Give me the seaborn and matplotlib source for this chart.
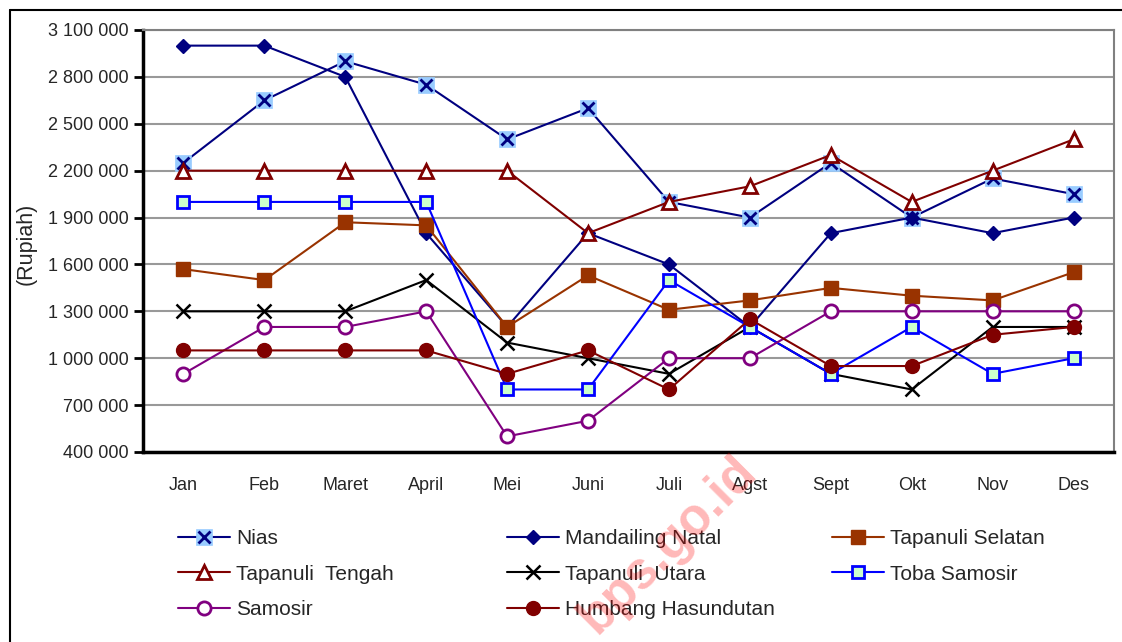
import numpy as np
import matplotlib
matplotlib.use("Agg")
import matplotlib.pyplot as plt
import matplotlib.ticker as mticker
from matplotlib.lines import Line2D
import seaborn as sns

# --- DATA ---
months = ["Jan", "Feb", "Maret", "April", "Mei", "Juni", "Juli", "Agst", "Sept", "Okt", "Nov", "Des"]

nias = [2250000, 2650000, 2900000, 2750000, 2400000, 2600000, 2000000, 1900000, 2250000, 1900000, 2150000, 2050000]
mandailing_natal = [3000000, 3000000, 2800000, 1800000, 1200000, 1800000, 1600000, 1200000, 1800000, 1900000, 1800000, 1900000]
tapanuli_selatan = [1570000, 1500000, 1870000, 1850000, 1200000, 1530000, 1310000, 1370000, 1450000, 1400000, 1370000, 1550000]
tapanuli_tengah = [2200000, 2200000, 2200000, 2200000, 2200000, 1800000, 2000000, 2100000, 2300000, 2000000, 2200000, 2400000]
tapanuli_utara = [1300000, 1300000, 1300000, 1500000, 1100000, 1000000, 900000, 1200000, 900000, 800000, 1200000, 1200000]
toba_samosir = [2000000, 2000000, 2000000, 2000000, 800000, 800000, 1500000, 1200000, 900000, 1200000, 900000, 1000000]
samosir = [900000, 1200000, 1200000, 1300000, 500000, 600000, 1000000, 1000000, 1300000, 1300000, 1300000, 1300000]
humbang_hasundutan = [1050000, 1050000, 1050000, 1050000, 900000, 1050000, 800000, 1250000, 950000, 950000, 1150000, 1200000]

y_ticks = [400000, 700000, 1000000, 1300000, 1600000, 1900000, 2200000, 2500000, 2800000, 3100000]

# --- STYLE ---
sns.set_style("white")
plt.rcParams["font.family"] = ["Liberation Sans", "DejaVu Sans"]

fig = plt.figure(figsize=(11.22, 6.42), dpi=100)
ax = fig.add_axes([143 / 1122, 1 - 452 / 642, (1114 - 143) / 1122, (452 - 30) / 642])

x = np.arange(len(months))
handles = {}

def draw(vals, name, **kw):
    sns.lineplot(x=x, y=vals, ax=ax, legend=False, sort=False, **kw)
    line = ax.lines[-1]
    line.set_clip_on(False)
    handles[name] = line
    return line

# Nias: light blue square with navy cross on top
sq = draw(nias, "Nias", color="#000080", lw=1.5, marker="s", markersize=11,
          markerfacecolor="#99CCFF", markeredgecolor="#99CCFF", markeredgewidth=0.5)
sns.lineplot(x=x, y=nias, ax=ax, legend=False, sort=False, linestyle="none",
             marker="x", markersize=9, markeredgecolor="#000080", markeredgewidth=2, color="#000080")
cross = ax.lines[-1]
cross.set_clip_on(False)
handles["Nias"] = (sq, cross)

draw(mandailing_natal, "Mandailing Natal", color="#000080", lw=1.5, marker="D", markersize=7,
     markerfacecolor="#000080", markeredgecolor="#000080", markeredgewidth=1)
draw(tapanuli_selatan, "Tapanuli Selatan", color="#993300", lw=1.5, marker="s", markersize=10,
     markerfacecolor="#993300", markeredgecolor="#993300", markeredgewidth=1)
draw(tapanuli_tengah, "Tapanuli  Tengah", color="#800000", lw=1.5, marker="^", markersize=9.5,
     markerfacecolor="white", markeredgecolor="#800000", markeredgewidth=2)
draw(tapanuli_utara, "Tapanuli  Utara", color="black", lw=1.5, marker="x", markersize=10,
     markeredgecolor="black", markeredgewidth=1.8)
draw(toba_samosir, "Toba Samosir", color="#0000FF", lw=1.5, marker="s", markersize=9,
     markerfacecolor="#CCFFCC", markeredgecolor="#0000FF", markeredgewidth=2)
draw(samosir, "Samosir", color="#800080", lw=1.5, marker="o", markersize=9.5,
     markerfacecolor="white", markeredgecolor="#800080", markeredgewidth=2)
draw(humbang_hasundutan, "Humbang Hasundutan", color="#800000", lw=1.5, marker="o", markersize=10,
     markerfacecolor="#800000", markeredgecolor="#800000", markeredgewidth=1)

# --- AXES ---
ax.set_xlim(-0.5, len(months) - 0.5)
ax.set_ylim(y_ticks[0], y_ticks[-1])
ax.set_yticks(y_ticks)
ax.yaxis.set_major_formatter(mticker.FuncFormatter(lambda v, p: f"{int(v):,}".replace(",", " ")))
ax.set_xticks(x)
ax.set_xticklabels(months)
ax.set_xticks(np.arange(-0.5, len(months), 1), minor=True)
ax.tick_params(axis="x", which="major", length=0, pad=18, labelsize=13)
ax.tick_params(axis="x", which="minor", length=7, width=2.5, direction="out", color="black")
ax.tick_params(axis="y", length=6.5, width=2, direction="out", color="black", pad=4, labelsize=13, left=True)
ax.set_xlabel("")
ax.set_ylabel("")

ax.grid(axis="y", color="#999999", lw=1.5)
ax.set_axisbelow(True)
for s in ["left", "bottom"]:
    ax.spines[s].set_color("black")
    ax.spines[s].set_linewidth(2.5)
for s in ["top", "right"]:
    ax.spines[s].set_color("#808080")
    ax.spines[s].set_linewidth(1.5)

fig.text(26 / 1122, 1 - 244 / 642, "(Rupiah)", rotation=90, ha="center", va="center", fontsize=15.5)

# --- LEGEND (three columns, row order as in the source) ---
columns = [
    (178, ["Nias", "Tapanuli  Tengah", "Samosir"]),
    (507, ["Mandailing Natal", "Tapanuli  Utara", "Humbang Hasundutan"]),
    (832, ["Tapanuli Selatan", "Toba Samosir"]),
]
for xpos, names in columns:
    fig.legend([handles[n] for n in names], names, loc="upper left",
               bbox_to_anchor=(xpos / 1122, 1 - 529 / 642), frameon=False, fontsize=15,
               handlelength=2.5, handletextpad=0.3, labelspacing=0.8, borderpad=0, borderaxespad=0)

# outer frame of the source graphic
fig.add_artist(Line2D([10 / 1122, 10 / 1122], [0, 1 - 10 / 642], color="black", lw=1.5))
fig.add_artist(Line2D([10 / 1122, 1], [1 - 10 / 642, 1 - 10 / 642], color="black", lw=1.5))

# watermark
fig.text(668 / 1122, 1 - 545 / 642, "bps.go.id", rotation=45, ha="center", va="center",
         fontsize=37, fontweight="bold", color="#FF0000", alpha=0.28, zorder=10)

plt.savefig("out.png", dpi=100)
